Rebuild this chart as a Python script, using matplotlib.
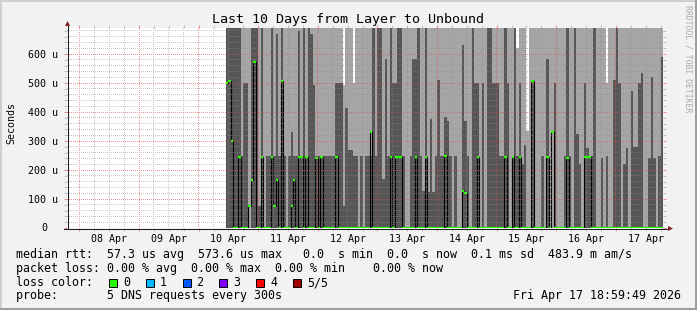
import matplotlib
matplotlib.use('Agg')
import matplotlib.pyplot as plt
import matplotlib.dates as mdates
from matplotlib.patches import Rectangle, Polygon
from matplotlib.lines import Line2D
from matplotlib.ticker import MultipleLocator, FuncFormatter, NullFormatter
import numpy as np
import pandas as pd

plt.rcParams['font.family'] = ['DejaVu Sans Mono']

W, H = 697, 310

t_start = pd.Timestamp('2026-04-07 19:00')
t_end = pd.Timestamp('2026-04-17 19:00')
bins = pd.date_range('2026-04-10 11:00', periods=176, freq='h')

# smoke: dark band top and light band top (microseconds), median rtt
smoke_dark = [
    700, 700, 700, 700, 700, 700, 250, 500, 500, 0,
    700, 700, 700, 77, 700, 0, 250, 250, 700, 250,
    670, 250, 700, 250, 0, 250, 330, 250, 250, 680,
    250, 700, 250, 690, 670, 493, 250, 250, 250, 250,
    250, 250, 250, 250, 500, 500, 500, 77, 413, 270,
    270, 250, 250, 0, 250, 0, 250, 250, 250, 700,
    250, 700, 700, 168, 583, 250, 700, 500, 500, 700,
    700, 250, 0, 0, 250, 582, 582, 700, 250, 128,
    700, 123, 375, 123, 250, 510, 250, 250, 383, 370,
    250, 0, 250, 0, 0, 630, 370, 250, 0, 700,
    500, 500, 0, 500, 0, 700, 700, 500, 500, 500,
    250, 250, 700, 500, 0, 250, 700, 250, 500, 220,
    285, 0, 0, 500, 0, 0, 0, 250, 0, 583,
    0, 0, 500, 0, 0, 0, 250, 700, 250, 0,
    700, 323, 220, 0, 500, 275, 250, 250, 700, 0,
    0, 240, 0, 250, 0, 0, 510, 700, 500, 0,
    220, 275, 0, 473, 280, 280, 500, 534, 0, 0,
    240, 520, 240, 0, 250, 590,
]

smoke_light = [
    700, 700, 700, 700, 700, 700, 700, 700, 700, 700,
    700, 700, 700, 700, 700, 700, 700, 700, 700, 700,
    700, 700, 700, 700, 700, 700, 700, 700, 700, 700,
    700, 700, 700, 700, 700, 700, 700, 700, 700, 700,
    700, 700, 700, 700, 700, 700, 700, 493, 700, 700,
    700, 500, 700, 700, 700, 700, 700, 700, 700, 700,
    700, 700, 700, 700, 700, 700, 700, 700, 700, 700,
    700, 700, 700, 700, 700, 700, 700, 700, 700, 700,
    700, 700, 700, 700, 700, 700, 700, 700, 700, 700,
    700, 700, 700, 700, 700, 700, 700, 700, 700, 700,
    700, 700, 700, 700, 700, 700, 700, 700, 700, 700,
    700, 700, 700, 700, 700, 700, 700, 620, 700, 700,
    700, 334, 700, 700, 700, 700, 700, 700, 700, 700,
    700, 700, 700, 700, 700, 700, 700, 700, 700, 700,
    700, 700, 700, 700, 700, 700, 700, 700, 700, 700,
    700, 700, 700, 500, 700, 700, 700, 700, 700, 700,
    700, 700, 700, 700, 700, 700, 700, 700, 700, 700,
    700, 700, 700, 700, 700, 700,
]

median_rtt = [
    500, 506, 301, 0, 0, 246, 0, 0, 0, 77,
    167, 572, 0, 0, 246, 0, 0, 0, 246, 77,
    167, 0, 506, 0, 0, 0, 77, 167, 0, 246,
    246, 0, 246, 0, 0, 0, 240, 0, 246, 0,
    0, 0, 0, 0, 246, 0, 0, 0, 0, 0,
    0, 0, 0, 0, 0, 0, 0, 0, 330, 0,
    0, 0, 0, 0, 0, 0, 246, 0, 246, 246,
    246, 0, 0, 0, 0, 0, 246, 0, 0, 0,
    246, 0, 0, 0, 0, 0, 0, 0, 248, 0,
    0, 0, 0, 0, 0, 129, 121, 0, 0, 0,
    0, 246, 0, 0, 0, 0, 0, 0, 0, 0,
    0, 0, 246, 0, 0, 246, 0, 0, 246, 0,
    0, 0, 0, 506, 0, 0, 0, 0, 0, 246,
    0, 330, 0, 0, 0, 0, 0, 240, 0, 0,
    0, 0, 0, 0, 246, 246, 246, 0, 0, 0,
    0, 0, 0, 0, 0, 0, 0, 0, 0, 0,
    0, 0, 0, 0, 0, 0, 0, 0, 0, 0,
    0, 0, 0, 0, 0, 0,
]

loss_labels = ['0', '1', '2', '3', '4', '5/5']
loss_colors = ['#26ff00', '#00b8ff', '#0059ff', '#7e00ff', '#ff0000', '#a10000']

legend_rtt = 'median rtt:  57.3 us avg  573.6 us max   0.0  s min  0.0  s now  0.1 ms sd  483.9 m am/s'
legend_loss = 'packet loss: 0.00 % avg  0.00 % max  0.00 % min    0.00 % now'
legend_probe = 'probe:       5 DNS requests every 300s'
stamp = 'Fri Apr 17 18:59:49 2026'

major_col = (0.87, 0.31, 0.31, 0.6)
minor_col = (0.56, 0.56, 0.56, 0.5)
y_top = 690


def fx(x):
    return x / W


def fy(y):
    return 1 - y / H


x = mdates.date2num(bins)
step = 1 / 24
edges = np.append(x, x[-1] + step)
x0, x1 = mdates.date2num(t_start), mdates.date2num(t_end)

fig = plt.figure(figsize=(W / 100, H / 100), dpi=100, facecolor='#f2f2f2')
ax_l, ax_b, ax_w, ax_h = 67, 82, 596, 200
ax = fig.add_axes([ax_l / W, ax_b / H, ax_w / W, ax_h / H])
ax.set_facecolor('white')

ax.bar(x, smoke_light, width=step, align='edge', color='#a6a6a6', linewidth=0, antialiased=False, zorder=1)
ax.bar(x, smoke_dark, width=step, align='edge', color='#565656', linewidth=0, antialiased=False, zorder=1.1)
ax.stairs(median_rtt, edges, color='black', lw=0.8, baseline=None, zorder=4)
ax.hlines(median_rtt, edges[:-1], edges[1:], color=loss_colors[0], lw=1.6, zorder=5)

ax.set_xlim(x0, x1)
ax.set_ylim(0, y_top)

# dotted rrdtool style grid, placed pixel for pixel over the plot area
grid = np.zeros((ax_h, ax_w, 4))
for t in pd.date_range('2026-04-08 00:00', t_end, freq='6h'):
    c = int((mdates.date2num(t) - x0) / (x1 - x0) * ax_w)
    if 0 <= c < ax_w:
        grid[::2, c] = major_col if t.hour == 0 else minor_col
for v in range(20, y_top, 20):
    r = int(ax_h - v * ax_h / y_top)
    grid[r, ::2] = major_col if v % 100 == 0 else minor_col
fig.figimage(grid, xo=ax_l, yo=ax_b, origin='upper', zorder=1)

ax.xaxis.set_major_locator(mdates.DayLocator())
ax.xaxis.set_major_formatter(NullFormatter())
ax.xaxis.set_minor_locator(mdates.HourLocator(byhour=[6, 12, 18]))


def day_label(v, pos):
    d = mdates.num2date(v)
    return d.strftime('%d %b') if d.hour == 12 else ''


ax.xaxis.set_minor_formatter(FuncFormatter(day_label))
ax.yaxis.set_major_locator(MultipleLocator(100))
ax.yaxis.set_minor_locator(MultipleLocator(20))
ax.yaxis.set_major_formatter(FuncFormatter(lambda v, p: '' if v == 0 else f'{int(v)} u'))
ax.annotate('0', xy=(0, 0), xycoords=('axes fraction', 'data'), xytext=(-20, 0),
            textcoords='offset pixels', ha='right', va='center', fontsize=7.2)

ax.tick_params(which='both', direction='out', length=2, width=0.72, top=True, right=True,
               labelsize=7.2)
ax.tick_params(which='major', color=major_col)
ax.tick_params(which='minor', color=minor_col)
ax.tick_params(axis='x', which='minor', pad=2)
ax.tick_params(axis='y', which='major', pad=4.5)
for s in ax.spines.values():
    s.set_visible(False)

# axes with arrows
fig.add_artist(Line2D([fx(67.5), fx(67.5)], [fy(228.5), fy(24)], color='#1f1f1f', lw=0.75, zorder=2))
fig.add_artist(Line2D([fx(64), fx(669)], [fy(228.5), fy(228.5)], color='#1f1f1f', lw=0.75, zorder=2))
fig.add_artist(Polygon([[fx(65), fy(26)], [fx(70), fy(26)], [fx(67.5), fy(21)]],
                       closed=True, transform=fig.transFigure, color='#801f1f', lw=0, zorder=2))
fig.add_artist(Polygon([[fx(668), fy(226)], [fx(668), fy(231)], [fx(673), fy(228.5)]],
                       closed=True, transform=fig.transFigure, color='#801f1f', lw=0, zorder=2))

# 3d frame
fig.add_artist(Rectangle((0, 0), fx(2), 1, transform=fig.transFigure, color='#cfcfcf', lw=0))
fig.add_artist(Rectangle((0, fy(2)), 1, 2 / H, transform=fig.transFigure, color='#cfcfcf', lw=0))
fig.add_artist(Rectangle((fx(695), 0), fx(2), 1, transform=fig.transFigure, color='#9e9e9e', lw=0))
fig.add_artist(Rectangle((0, 0), 1, 2 / H, transform=fig.transFigure, color='#9e9e9e', lw=0))

fig.text(fx(348), fy(19), 'Last 10 Days from Layer to Unbound', ha='center', va='center', fontsize=9.6)
fig.text(fx(11), fy(123), 'Seconds', rotation=90, ha='center', va='center', fontsize=7.2)
fig.text(fx(688), fy(59), 'RRDTOOL / TOBI OETIKER', rotation=270, ha='center', va='center',
         fontsize=5.9, color='#ababab')

fs = 8.4
fig.text(fx(16), fy(258), legend_rtt, fontsize=fs, va='baseline')
fig.text(fx(16), fy(272), legend_loss, fontsize=fs, va='baseline')
fig.text(fx(16), fy(286), 'loss color:', fontsize=fs, va='baseline')
for i, (lab, col) in enumerate(zip(loss_labels, loss_colors)):
    bx = 109 + 36.8 * i
    fig.add_artist(Rectangle((fx(bx), fy(287)), 8 / W, 8 / H, transform=fig.transFigure,
                             facecolor=col, edgecolor='black', lw=0.7))
    fig.text(fx(bx + 14), fy(286), lab, fontsize=fs, va='baseline')
fig.text(fx(16), fy(299.5), legend_probe, fontsize=fs, va='baseline')
fig.text(fx(681), fy(299.5), stamp, fontsize=fs, va='baseline', ha='right')

fig.savefig('out.png', dpi=100, facecolor=fig.get_facecolor())
